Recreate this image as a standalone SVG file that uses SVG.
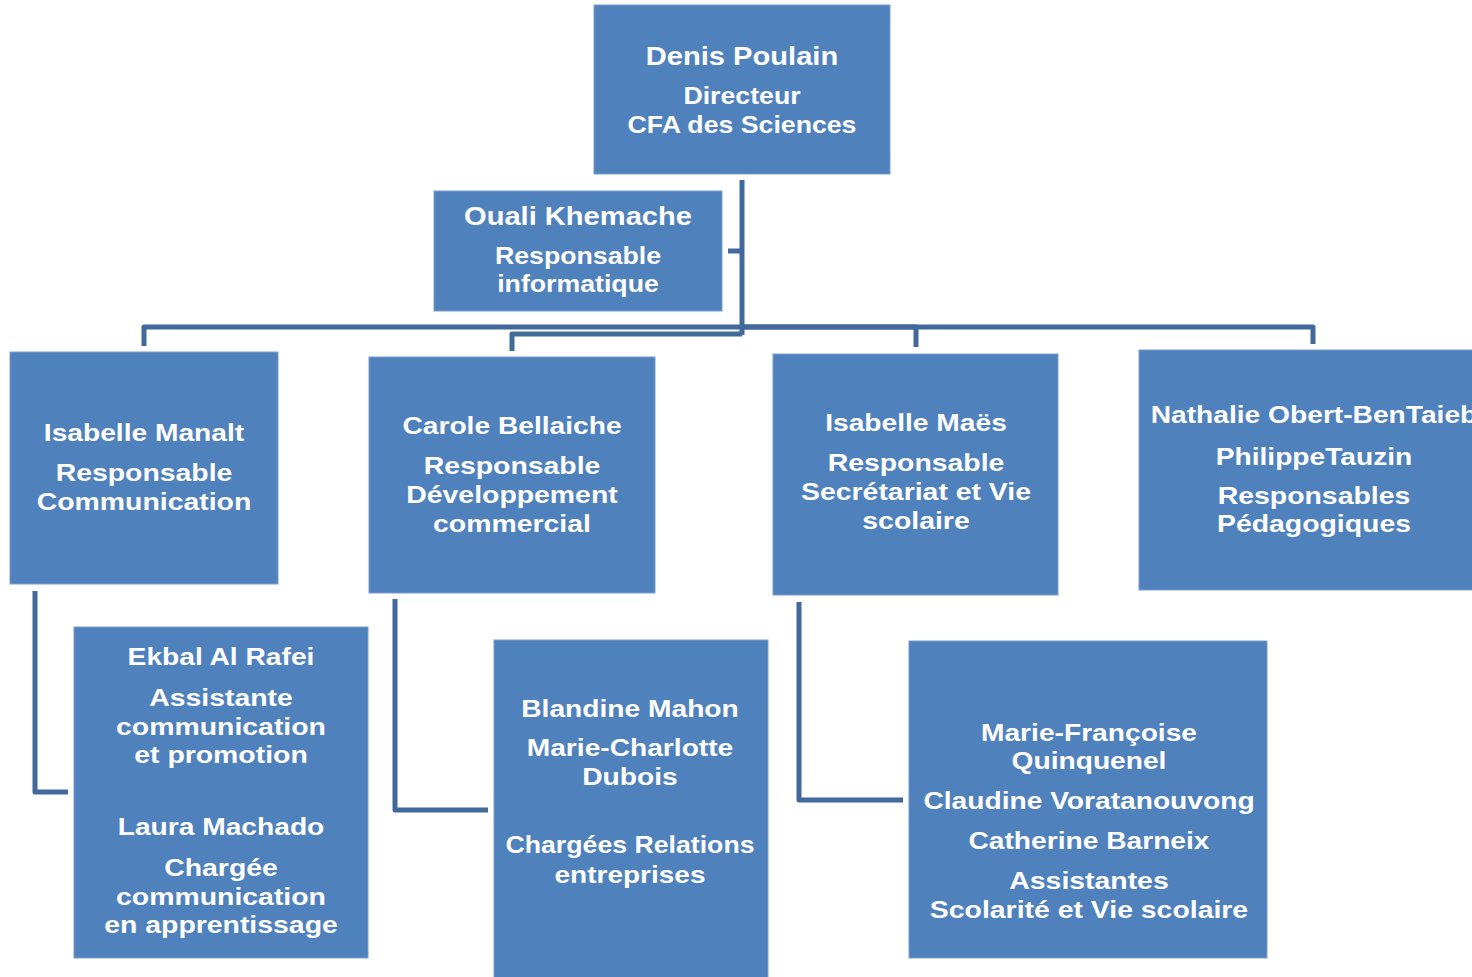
<svg xmlns="http://www.w3.org/2000/svg" width="1472" height="977" viewBox="0 0 1472 977">
<style>
.box{fill:#4F81BD;stroke:#7A9CCB;stroke-width:1}
text{font-family:"Liberation Sans",Arial,sans-serif;font-weight:bold;fill:#FFFFFF;text-anchor:middle}
.nm{font-size:24.5px}
.nmL{font-size:25.3px}
.sub{font-size:23.2px}
.conn{fill:none;stroke:#41699C;stroke-width:5;stroke-linejoin:round}
</style>
<rect width="1472" height="977" fill="#FFFFFF"/>
<g id="connectors">
<path class="conn" d="M742,180 V335"/>
<path class="conn" d="M728,251 H742"/>
<path class="conn" d="M742,327 H144 V346"/>
<path class="conn" d="M742,327 H916 V347"/>
<path class="conn" d="M742,327 H1313 V344"/>
<path class="conn" d="M742,334 H512 V351"/>
<path class="conn" d="M35,591 V792 H68"/>
<path class="conn" d="M395,599 V810 H488"/>
<path class="conn" d="M799,602 V800 H903"/>
</g>
<g id="n-denis">
<rect class="box" x="594" y="5" width="296" height="169"/>
<g transform="translate(742 0) scale(1.15 1)">
<text class="nmL" y="65">Denis Poulain</text>
<text class="sub" y="104">Directeur</text>
<text class="sub" y="133">CFA des Sciences</text>
</g>
</g>
<g id="n-ouali">
<rect class="box" x="434" y="191" width="288" height="120"/>
<g transform="translate(578 0) scale(1.15 1)">
<text class="nmL" y="225">Ouali Khemache</text>
<text class="sub" y="264">Responsable</text>
<text class="sub" y="292">informatique</text>
</g>
</g>
<g id="n-manalt">
<rect class="box" x="10" y="352" width="268" height="232"/>
<g transform="translate(144 0) scale(1.15 1)">
<text class="nm" y="441">Isabelle Manalt</text>
<text class="sub" y="481" transform="scale(1.065 1)">Responsable</text>
<text class="sub" y="510" transform="scale(1.065 1)">Communication</text>
</g>
</g>
<g id="n-bellaiche">
<rect class="box" x="369" y="357" width="286" height="236"/>
<g transform="translate(512 0) scale(1.15 1)">
<text class="nm" y="434">Carole Bellaiche</text>
<text class="sub" y="474" transform="scale(1.065 1)">Responsable</text>
<text class="sub" y="503" transform="scale(1.065 1)">Développement</text>
<text class="sub" y="532" transform="scale(1.065 1)">commercial</text>
</g>
</g>
<g id="n-maes">
<rect class="box" x="773" y="354" width="285" height="241"/>
<g transform="translate(916 0) scale(1.15 1)">
<text class="nm" y="431">Isabelle Maës</text>
<text class="sub" y="471" transform="scale(1.065 1)">Responsable</text>
<text class="sub" y="500" transform="scale(1.065 1)">Secrétariat et Vie</text>
<text class="sub" y="529" transform="scale(1.065 1)">scolaire</text>
</g>
</g>
<g id="n-pedago">
<rect class="box" x="1139" y="350" width="345" height="240"/>
<g transform="translate(1314 0) scale(1.15 1)">
<text class="nm" y="423">Nathalie Obert-BenTaieb</text>
<text class="nm" y="465">PhilippeTauzin</text>
<text class="sub" y="504" transform="scale(1.065 1)">Responsables</text>
<text class="sub" y="532" transform="scale(1.065 1)">Pédagogiques</text>
</g>
</g>
<g id="n-communication-team">
<rect class="box" x="74" y="627" width="294" height="331"/>
<g transform="translate(221 0) scale(1.15 1)">
<text class="nm" y="665">Ekbal Al Rafei</text>
<text class="sub" y="706" transform="scale(1.065 1)">Assistante</text>
<text class="sub" y="735" transform="scale(1.065 1)">communication</text>
<text class="sub" y="763" transform="scale(1.065 1)">et promotion</text>
<text class="nm" y="835">Laura Machado</text>
<text class="sub" y="876" transform="scale(1.065 1)">Chargée</text>
<text class="sub" y="905" transform="scale(1.065 1)">communication</text>
<text class="sub" y="933" transform="scale(1.065 1)">en apprentissage</text>
</g>
</g>
<g id="n-relations">
<rect class="box" x="494" y="640" width="274" height="345"/>
<g transform="translate(630 0) scale(1.15 1)">
<text class="nm" y="717">Blandine Mahon</text>
<text class="nm" y="756">Marie-Charlotte</text>
<text class="nm" y="785">Dubois</text>
<text class="sub" y="853">Chargées Relations</text>
<text class="sub" y="883" transform="scale(1.05 1)">entreprises</text>
</g>
</g>
<g id="n-scolarite">
<rect class="box" x="909" y="641" width="358" height="317"/>
<g transform="translate(1089 0) scale(1.15 1)">
<text class="nm" y="741">Marie-Françoise</text>
<text class="nm" y="769">Quinquenel</text>
<text class="nm" y="809">Claudine Voratanouvong</text>
<text class="nm" y="849">Catherine Barneix</text>
<text class="sub" y="889" transform="scale(1.065 1)">Assistantes</text>
<text class="sub" y="918" transform="scale(1.065 1)">Scolarité et Vie scolaire</text>
</g>
</g>
</svg>
